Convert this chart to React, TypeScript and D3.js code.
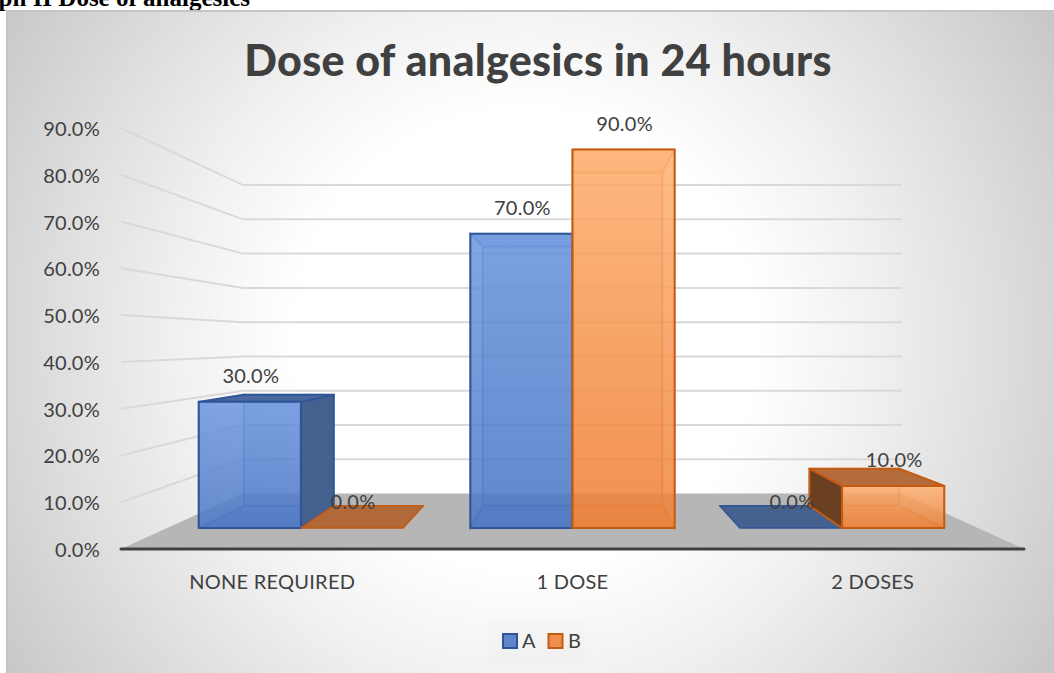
import React from "react";
import * as d3 from "d3";

const categories = ["NONE REQUIRED", "1 DOSE", "2 DOSES"];
const seriesNames = ["A", "B"];
const seriesA = [30, 70, 0];
const seriesB = [0, 90, 10];
const valueTicks = d3.range(0, 100, 10);
const groupCentres = [-0.67, 0, 0.665];
const categoryLabelU = [-0.665, 0, 0.665];

const W = 1054, H = 673;
const cx = 572.5;
const FONT = "Lato, Carlito, sans-serif";
const TXT = "#404040";
const FS = 20;
const LS = 0.25;
const halfW = d3.scaleLinear().domain([0, 1]).range([451.5, 329.5]);
const floorY = d3.scaleLinear().domain([0, 1]).range([549, 493.5]);
const unit = d3.scaleLinear().domain([0, 1]).range([4.678, 3.427]);
const BAR_U = 0.252;
const T_FRONT = 0.378, T_BACK = 0.78;

const proj = (u: number, v: number, t: number): [number, number] => [
  cx + u * halfW(t),
  floorY(t) - v * unit(t),
];
const line = d3.line<[number, number]>();
const poly = (pts: [number, number][]) => line(pts) + "Z";

const palette = [
  { fill: "#4472c4", stroke: "#2f5597", dark: "#44608f", top: "#4a68a0", inner: "#6f95dc" },
  { fill: "#ed7d31", stroke: "#c55a11", dark: "#6a3f22", top: "#b56c3d", inner: "#f8a868" },
];

function Bar({ u0, v, s }: { u0: number; v: number; s: number }) {
  const c = palette[s];
  const u1 = u0 + BAR_U;
  const P = (u: number, val: number, t: number) => proj(u, val, t);
  const st = { stroke: c.stroke, strokeWidth: 2, strokeLinejoin: "round" as const };
  if (v === 0) {
    return (
      <path d={poly([P(u0, 0, T_FRONT), P(u1, 0, T_FRONT), P(u1, 0, T_BACK), P(u0, 0, T_BACK)])}
        fill={s === 0 ? "#44618f" : "#b1693a"} {...st} strokeWidth={1.5} />
    );
  }
  const frontL = P(u0, v, T_FRONT), frontR = P(u1, v, T_FRONT);
  const backL = P(u0, v, T_BACK), backR = P(u1, v, T_BACK);
  const fbL = P(u0, 0, T_FRONT), fbR = P(u1, 0, T_FRONT);
  const bbL = P(u0, 0, T_BACK), bbR = P(u1, 0, T_BACK);
  const topVisible = backL[1] < frontL[1];
  const rightOut = backR[0] > frontR[0] + 0.5;
  const leftOut = backL[0] < frontL[0] - 0.5;
  const innerStroke = { stroke: c.stroke, strokeOpacity: 0.3, strokeWidth: 2 };
  return (
    <g>
      <path d={poly([backL, backR, bbR, bbL])} fill={c.fill} fillOpacity={0.35} {...innerStroke} />
      <path d={poly([fbL, fbR, bbR, bbL])} fill={c.fill} fillOpacity={0.5} {...innerStroke} />
      {rightOut
        ? <path d={poly([frontR, backR, bbR, fbR])} fill={c.dark} {...st} />
        : <path d={poly([frontR, backR, bbR, fbR])} fill={c.inner} fillOpacity={0.25} {...innerStroke} />}
      {leftOut
        ? <path d={poly([frontL, backL, bbL, fbL])} fill={c.dark} {...st} />
        : <path d={poly([frontL, backL, bbL, fbL])} fill={c.inner} fillOpacity={0.25} {...innerStroke} />}
      {topVisible
        ? <path d={poly([frontL, frontR, backR, backL])} fill={c.top} {...st} />
        : <path d={poly([frontL, frontR, backR, backL])} fill={c.inner} fillOpacity={0.6} {...innerStroke} />}
      <path d={poly([frontL, frontR, fbR, fbL])} fill={`url(#face${s})`} fillOpacity={0.8} {...st} />
    </g>
  );
}

export default function App() {
  const bars = categories.flatMap((_, i) => [
    { i, s: 0, v: seriesA[i], u0: groupCentres[i] - BAR_U },
    { i, s: 1, v: seriesB[i], u0: groupCentres[i] },
  ]);
  return (
    <svg width={W} height={H} style={{ position: "absolute", left: 0, top: 0 }}>
      <defs>
        <radialGradient id="bg" gradientUnits="userSpaceOnUse" cx={525} cy={340} r={640}>
          <stop offset="0.36" stopColor="#ffffff" />
          <stop offset="0.55" stopColor="#f0f0f0" />
          <stop offset="0.8" stopColor="#d8d8d8" />
          <stop offset="1" stopColor="#c4c4c4" />
        </radialGradient>
        <linearGradient id="face0" x1="0" x2="0" y1="0" y2="1">
          <stop offset="0" stopColor="#6c96e0" />
          <stop offset="1" stopColor="#4a76c4" />
        </linearGradient>
        <linearGradient id="face1" x1="0" x2="0" y1="0" y2="1">
          <stop offset="0" stopColor="#ffb273" />
          <stop offset="1" stopColor="#ee7f35" />
        </linearGradient>
      </defs>

      <text x={250} y={6} textAnchor="end" fontFamily="'Liberation Serif', serif" fontWeight="bold" fontSize={25} fill="#000">Graph II Dose of analgesics</text>

      <rect x={7} y={11} width={W - 7} height={H - 11} fill="url(#bg)" />
      <path d={`M7 ${H}V11H${W}`} fill="none" stroke="#c4c4c4" strokeWidth={2} />

      <text x={538} y={76} textAnchor="middle" fontFamily={FONT} fontWeight={900} fontSize={43} letterSpacing={0.3} fill={TXT}>Dose of analgesics in 24 hours</text>

      <path d={poly([proj(-1, 0, 0), proj(1, 0, 0), proj(1, 0, 1), proj(-1, 0, 1)])} fill="#b6b6b6" />

      {valueTicks.filter(v => v > 0).map(v => {
        const a = proj(-1, v, 0), b = proj(-1, v, 1), c = proj(1, v, 1);
        return <path key={v} d={line([a, b, c]) as string} fill="none" stroke="#d9d9d9" strokeWidth={2} />;
      })}

      {bars.map(b => <Bar key={`${b.i}-${b.s}`} u0={b.u0} v={b.v} s={b.s} />)}

      <line x1={proj(-1, 0, 0)[0]} x2={proj(1, 0, 0)[0]} y1={549} y2={549} stroke="#404040" strokeWidth={3} strokeLinecap="round" />

      {valueTicks.map(v => (
        <text key={v} x={100} y={proj(-1, v, 0)[1] + 1} dy="0.35em" textAnchor="end" fontFamily={FONT} fontSize={FS} letterSpacing={LS} fill={TXT}>{v.toFixed(1)}%</text>
      ))}

      {categories.map((c, i) => (
        <text key={c} x={cx + categoryLabelU[i] * halfW(0)} y={582} dy="0.35em" textAnchor="middle" fontFamily={FONT} fontSize={FS} letterSpacing={LS} fill={TXT}>{c}</text>
      ))}

      {bars.map(b => {
        const [x, y] = proj(b.u0 + BAR_U / 2, b.v, T_FRONT);
        return (
          <text key={`l${b.i}-${b.s}`} x={x + 1} y={y - 26} dy="0.35em" textAnchor="middle" fontFamily={FONT} fontSize={FS} letterSpacing={LS} fill={TXT}>{b.v.toFixed(1)}%</text>
        );
      })}

      <rect x={489} y={618} width={96} height={46} fill="#000" fillOpacity={0.012} />
      {seriesNames.map((n, i) => (
        <g key={n}>
          <rect x={503 + i * 45.5} y={634} width={14} height={14} fill={palette[i].fill} fillOpacity={0.85} stroke={palette[i].stroke} strokeWidth={2} />
          <text x={522 + i * 46} y={641} dy="0.35em" fontFamily={FONT} fontSize={FS} fill={TXT}>{n}</text>
        </g>
      ))}
    </svg>
  );
}
